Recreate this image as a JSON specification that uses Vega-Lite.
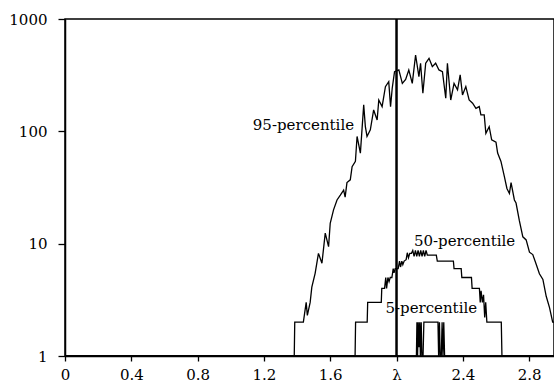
{
  "$schema": "https://vega.github.io/schema/vega-lite/v6.json",
  "width": 489,
  "height": 337,
  "autosize": "none",
  "padding": {"left": 65, "top": 19, "right": 0, "bottom": 30},
  "background": "white",
  "config": {
    "view": {"stroke": "black", "strokeWidth": 1.5},
    "font": "DejaVu Serif",
    "axis": {
      "grid": false,
      "domainColor": "black",
      "domainWidth": 1.5,
      "tickColor": "black",
      "tickWidth": 1.3,
      "labelColor": "black",
      "labelFont": "DejaVu Serif",
      "labelFontSize": 15,
      "title": null
    }
  },
  "datasets": {
    "curves": [
      {"series": "95", "x": 0, "y": 1},
      {"series": "95", "x": 1.383, "y": 1},
      {"series": "95", "x": 1.386, "y": 2},
      {"series": "95", "x": 1.438, "y": 2},
      {"series": "95", "x": 1.455, "y": 3},
      {"series": "95", "x": 1.462, "y": 2.3},
      {"series": "95", "x": 1.479, "y": 3},
      {"series": "95", "x": 1.489, "y": 4.1},
      {"series": "95", "x": 1.509, "y": 5.45},
      {"series": "95", "x": 1.529, "y": 8.2},
      {"series": "95", "x": 1.55, "y": 6.7},
      {"series": "95", "x": 1.57, "y": 12.4},
      {"series": "95", "x": 1.59, "y": 9.4},
      {"series": "95", "x": 1.6, "y": 15.2},
      {"series": "95", "x": 1.62, "y": 20},
      {"series": "95", "x": 1.641, "y": 24.5},
      {"series": "95", "x": 1.661, "y": 27},
      {"series": "95", "x": 1.681, "y": 30},
      {"series": "95", "x": 1.69, "y": 26},
      {"series": "95", "x": 1.701, "y": 35},
      {"series": "95", "x": 1.721, "y": 37},
      {"series": "95", "x": 1.732, "y": 48.5},
      {"series": "95", "x": 1.752, "y": 54},
      {"series": "95", "x": 1.762, "y": 90},
      {"series": "95", "x": 1.782, "y": 64},
      {"series": "95", "x": 1.802, "y": 172},
      {"series": "95", "x": 1.812, "y": 110},
      {"series": "95", "x": 1.822, "y": 90},
      {"series": "95", "x": 1.842, "y": 103},
      {"series": "95", "x": 1.862, "y": 155},
      {"series": "95", "x": 1.883, "y": 126},
      {"series": "95", "x": 1.893, "y": 190},
      {"series": "95", "x": 1.913, "y": 166},
      {"series": "95", "x": 1.933, "y": 250},
      {"series": "95", "x": 1.953, "y": 277},
      {"series": "95", "x": 1.964, "y": 166},
      {"series": "95", "x": 1.974, "y": 242},
      {"series": "95", "x": 1.988, "y": 340},
      {"series": "95", "x": 2.014, "y": 352},
      {"series": "95", "x": 2.035, "y": 267},
      {"series": "95", "x": 2.055, "y": 290},
      {"series": "95", "x": 2.074, "y": 352},
      {"series": "95", "x": 2.095, "y": 267},
      {"series": "95", "x": 2.115, "y": 478},
      {"series": "95", "x": 2.135, "y": 307},
      {"series": "95", "x": 2.145, "y": 404},
      {"series": "95", "x": 2.159, "y": 218},
      {"series": "95", "x": 2.176, "y": 404},
      {"series": "95", "x": 2.196, "y": 447},
      {"series": "95", "x": 2.216, "y": 377},
      {"series": "95", "x": 2.236, "y": 404},
      {"series": "95", "x": 2.256, "y": 352},
      {"series": "95", "x": 2.277, "y": 340},
      {"series": "95", "x": 2.297, "y": 197},
      {"series": "95", "x": 2.307, "y": 404},
      {"series": "95", "x": 2.327, "y": 190},
      {"series": "95", "x": 2.347, "y": 267},
      {"series": "95", "x": 2.368, "y": 234},
      {"series": "95", "x": 2.384, "y": 318},
      {"series": "95", "x": 2.398, "y": 211},
      {"series": "95", "x": 2.418, "y": 250},
      {"series": "95", "x": 2.438, "y": 190},
      {"series": "95", "x": 2.459, "y": 178},
      {"series": "95", "x": 2.479, "y": 160},
      {"series": "95", "x": 2.499, "y": 166},
      {"series": "95", "x": 2.509, "y": 140},
      {"series": "95", "x": 2.529, "y": 140},
      {"series": "95", "x": 2.539, "y": 96},
      {"series": "95", "x": 2.559, "y": 110},
      {"series": "95", "x": 2.574, "y": 84},
      {"series": "95", "x": 2.6, "y": 80},
      {"series": "95", "x": 2.61, "y": 64},
      {"series": "95", "x": 2.63, "y": 54},
      {"series": "95", "x": 2.65, "y": 40},
      {"series": "95", "x": 2.666, "y": 31},
      {"series": "95", "x": 2.681, "y": 28},
      {"series": "95", "x": 2.691, "y": 35},
      {"series": "95", "x": 2.711, "y": 24.5},
      {"series": "95", "x": 2.721, "y": 23},
      {"series": "95", "x": 2.741, "y": 16},
      {"series": "95", "x": 2.762, "y": 11.5},
      {"series": "95", "x": 2.782, "y": 10.8},
      {"series": "95", "x": 2.802, "y": 8.4},
      {"series": "95", "x": 2.822, "y": 8},
      {"series": "95", "x": 2.842, "y": 6.6},
      {"series": "95", "x": 2.862, "y": 5.4},
      {"series": "95", "x": 2.883, "y": 4.8},
      {"series": "95", "x": 2.903, "y": 3.4},
      {"series": "95", "x": 2.923, "y": 2.7},
      {"series": "95", "x": 2.942, "y": 2},
      {"series": "95", "x": 2.95, "y": 2},
      {"series": "50", "x": 0, "y": 1},
      {"series": "50", "x": 1.75, "y": 1},
      {"series": "50", "x": 1.753, "y": 2},
      {"series": "50", "x": 1.823, "y": 2},
      {"series": "50", "x": 1.826, "y": 3},
      {"series": "50", "x": 1.908, "y": 3},
      {"series": "50", "x": 1.911, "y": 4},
      {"series": "50", "x": 1.928, "y": 4},
      {"series": "50", "x": 1.935, "y": 5},
      {"series": "50", "x": 1.94, "y": 4},
      {"series": "50", "x": 1.948, "y": 5},
      {"series": "50", "x": 1.955, "y": 4.6},
      {"series": "50", "x": 1.962, "y": 5},
      {"series": "50", "x": 1.972, "y": 5},
      {"series": "50", "x": 1.98, "y": 6},
      {"series": "50", "x": 1.985, "y": 5.5},
      {"series": "50", "x": 1.992, "y": 6},
      {"series": "50", "x": 2.01, "y": 6},
      {"series": "50", "x": 2.018, "y": 7},
      {"series": "50", "x": 2.024, "y": 6.2},
      {"series": "50", "x": 2.032, "y": 7},
      {"series": "50", "x": 2.038, "y": 6.5},
      {"series": "50", "x": 2.046, "y": 7},
      {"series": "50", "x": 2.058, "y": 7.2},
      {"series": "50", "x": 2.065, "y": 8.3},
      {"series": "50", "x": 2.072, "y": 7.5},
      {"series": "50", "x": 2.08, "y": 8.2},
      {"series": "50", "x": 2.09, "y": 8.2},
      {"series": "50", "x": 2.098, "y": 8.7},
      {"series": "50", "x": 2.106, "y": 7.7},
      {"series": "50", "x": 2.114, "y": 8.7},
      {"series": "50", "x": 2.122, "y": 7.7},
      {"series": "50", "x": 2.13, "y": 8.7},
      {"series": "50", "x": 2.138, "y": 7.7},
      {"series": "50", "x": 2.146, "y": 8.7},
      {"series": "50", "x": 2.154, "y": 7.7},
      {"series": "50", "x": 2.162, "y": 8.7},
      {"series": "50", "x": 2.17, "y": 7.7},
      {"series": "50", "x": 2.178, "y": 8.7},
      {"series": "50", "x": 2.186, "y": 7.9},
      {"series": "50", "x": 2.24, "y": 7.9},
      {"series": "50", "x": 2.246, "y": 7},
      {"series": "50", "x": 2.343, "y": 7},
      {"series": "50", "x": 2.347, "y": 6},
      {"series": "50", "x": 2.39, "y": 6},
      {"series": "50", "x": 2.394, "y": 5},
      {"series": "50", "x": 2.452, "y": 5},
      {"series": "50", "x": 2.456, "y": 4},
      {"series": "50", "x": 2.5, "y": 4},
      {"series": "50", "x": 2.505, "y": 3},
      {"series": "50", "x": 2.51, "y": 3.8},
      {"series": "50", "x": 2.518, "y": 3},
      {"series": "50", "x": 2.525, "y": 3.5},
      {"series": "50", "x": 2.532, "y": 2.2},
      {"series": "50", "x": 2.538, "y": 3},
      {"series": "50", "x": 2.545, "y": 2},
      {"series": "50", "x": 2.632, "y": 2},
      {"series": "50", "x": 2.636, "y": 1},
      {"series": "50", "x": 2.95, "y": 1},
      {"series": "5", "x": 0, "y": 1},
      {"series": "5", "x": 2.12, "y": 1},
      {"series": "5", "x": 2.123, "y": 2},
      {"series": "5", "x": 2.127, "y": 1},
      {"series": "5", "x": 2.131, "y": 2},
      {"series": "5", "x": 2.135, "y": 1.2},
      {"series": "5", "x": 2.14, "y": 2},
      {"series": "5", "x": 2.144, "y": 1},
      {"series": "5", "x": 2.149, "y": 2},
      {"series": "5", "x": 2.153, "y": 1},
      {"series": "5", "x": 2.16, "y": 1},
      {"series": "5", "x": 2.165, "y": 2},
      {"series": "5", "x": 2.25, "y": 2},
      {"series": "5", "x": 2.254, "y": 1},
      {"series": "5", "x": 2.259, "y": 2},
      {"series": "5", "x": 2.263, "y": 1},
      {"series": "5", "x": 2.27, "y": 1},
      {"series": "5", "x": 2.275, "y": 2},
      {"series": "5", "x": 2.28, "y": 1},
      {"series": "5", "x": 2.285, "y": 2},
      {"series": "5", "x": 2.29, "y": 1},
      {"series": "5", "x": 2.95, "y": 1}
    ],
    "labels": [
      {"label": "95-percentile", "x": 1.133, "y": 114},
      {"label": "50-percentile", "x": 2.105, "y": 10.6},
      {"label": "5-percentile", "x": 1.933, "y": 2.68}
    ],
    "lambda": [{"lambda": 2}]
  },
  "layer": [
    {
      "data": {"name": "curves"},
      "mark": {"type": "line", "color": "black", "strokeWidth": 1.3, "clip": true},
      "encoding": {
        "x": {
          "field": "x",
          "type": "quantitative",
          "scale": {"domain": [0, 2.95], "nice": false, "zero": false},
          "axis": {
            "values": [0, 0.2, 0.4, 0.6, 0.8, 1, 1.2, 1.4, 1.6, 1.8, 2, 2.2, 2.4, 2.6, 2.8],
            "labelExpr": "datum.value == 2 ? 'λ' : (round(datum.value * 10) % 4 == 0 ? format(datum.value, '~g') : '')",
            "tickSize": 5,
            "labelPadding": 6,
            "labelOverlap": false,
            "labelFlush": false,
            "labelBound": false
          }
        },
        "y": {
          "field": "y",
          "type": "quantitative",
          "scale": {"type": "log", "domain": [1, 1000], "nice": false},
          "axis": {
            "values": [1, 10, 100, 1000],
            "format": "d",
            "tickSize": 7,
            "labelPadding": 11,
            "labelOverlap": false,
            "labelFlush": false,
            "labelBound": false
          }
        },
        "detail": {"field": "series"},
        "order": {"field": "x", "type": "quantitative"}
      }
    },
    {
      "data": {"name": "labels"},
      "mark": {"type": "text", "align": "left", "baseline": "middle", "font": "DejaVu Serif", "fontSize": 15, "color": "black"},
      "encoding": {
        "x": {"field": "x", "type": "quantitative"},
        "y": {"field": "y", "type": "quantitative"},
        "text": {"field": "label"}
      }
    },
    {
      "data": {"name": "lambda"},
      "mark": {"type": "rule", "color": "black", "strokeWidth": 2.5},
      "encoding": {
        "x": {"field": "lambda", "type": "quantitative"}
      }
    }
  ]
}
